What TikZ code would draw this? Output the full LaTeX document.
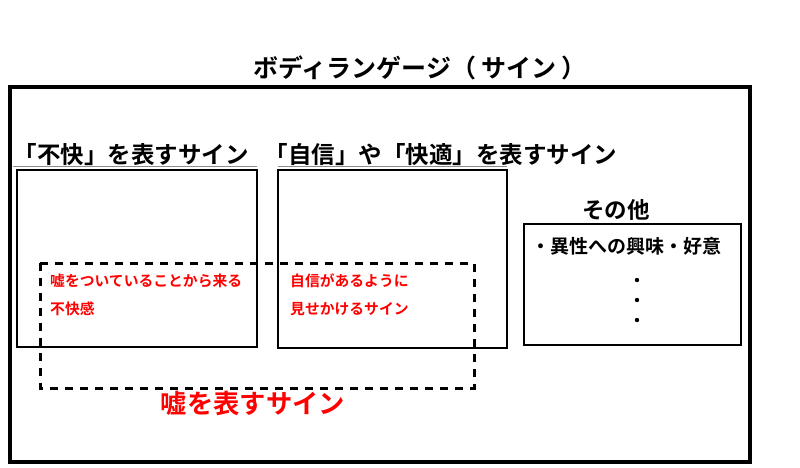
\documentclass[tikz,border=0pt]{standalone}
\usepackage{fontspec}
\newfontfamily\jp{Noto Sans CJK JP}[BoldFont={Noto Sans CJK JP Bold}]
\begin{document}
\begin{tikzpicture}[x=1pt,y=-1pt,
  lbl/.style={font=\jp\bfseries, inner sep=0pt, anchor=center},
  redlbl/.style={lbl, text=red},
  thinbox/.style={draw=black, line width=2pt},
  outerbox/.style={draw=black, line width=3.2pt},
  dashbox/.style={draw=black, line width=3pt, dash pattern=on 8pt off 7pt},
  uline/.style={draw=black!45, line width=0.8pt}
]
\useasboundingbox[fill=white] (0,0) rectangle (800,467);
% title
\node[lbl, font=\jp\bfseries\fontsize{25}{27}\selectfont] (title) at (420,68) {ボディランゲージ（\hspace{5pt}サイン\hspace{5pt}）};
% outer box
\draw[outerbox] (10,87) rectangle (750,462);
% headings
\node[lbl, font=\jp\bfseries\fontsize{23.5}{25}\selectfont] (h1) at (131,155) {「不快」を表すサイン};
\node[lbl, font=\jp\bfseries\fontsize{23.5}{25}\selectfont] (h2) at (441,155) {「自信」や「快適」を表すサイン};
\coordinate (u1a) at (13,166.5); \coordinate (u1b) at (257,166.5);
\coordinate (u2a) at (278,166.5); \coordinate (u2b) at (507,166.5);
\draw[uline] (u1a) -- (u1b);
\draw[uline] (u2a) -- (u2b);
% boxes
\draw[thinbox] (17,170) rectangle (257,347);
\draw[thinbox] (278,170) rectangle (507,348);
\node[lbl, font=\jp\bfseries\fontsize{22.5}{24}\selectfont] (other) at (616,210) {その他};
\draw[thinbox] (524,224) rectangle (741,345);
\node[lbl, font=\jp\bfseries\fontsize{19}{21}\selectfont] (interest) at (626,246) {・異性への興味・好意};
\fill (637,280) circle (2.2pt);
\fill (637,300) circle (2.2pt);
\fill (637,320) circle (2.2pt);
% dashed box
\draw[dashbox] (40,263) rectangle (474,388);
% red texts
\node[redlbl, anchor=west, font=\jp\bfseries\fontsize{14.8}{16}\selectfont] (r1) at (50,281) {嘘をついていることから来る};
\node[redlbl, anchor=west, font=\jp\bfseries\fontsize{14.8}{16}\selectfont] (r2) at (50,309) {不快感};
\node[redlbl, anchor=west, font=\jp\bfseries\fontsize{14.8}{16}\selectfont] (r3) at (290,281) {自信があるように};
\node[redlbl, anchor=west, font=\jp\bfseries\fontsize{14.8}{16}\selectfont] (r4) at (290,309) {見せかけるサイン};
\node[redlbl, font=\jp\bfseries\fontsize{26.3}{28}\selectfont] (lie) at (253,403) {嘘を表すサイン};
\end{tikzpicture}
\end{document}
